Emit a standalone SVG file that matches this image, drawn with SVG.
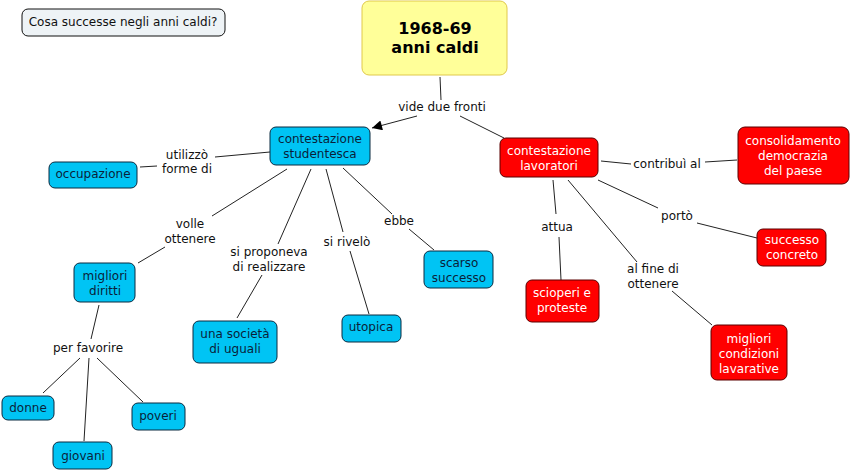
<svg xmlns="http://www.w3.org/2000/svg" width="851" height="472" viewBox="0 0 851 472">
<style>
text{font-family:"DejaVu Sans",Verdana,sans-serif;font-size:12px;text-anchor:middle}
.b rect{fill:#00c4f4;stroke:#0a2a40;stroke-width:1}
.b text{fill:#0a1f3a}
.r rect{fill:#ff0000;stroke:#5a0000;stroke-width:1}
.r text{fill:#ffffff}
.lbl{fill:#111}
.c line{stroke:#222;stroke-width:1}
</style>
<defs>
<marker id="ah" viewBox="0 0 10 10" refX="10" refY="5" markerWidth="14" markerHeight="10" markerUnits="userSpaceOnUse" orient="auto">
<path d="M0,0 L10,5 L0,10 z" fill="#000"/>
</marker>
</defs>
<rect width="851" height="472" fill="#fff"/>
<g id="connectors" class="c">
<line x1="440" y1="77" x2="441" y2="100"/>
<line x1="417" y1="116" x2="372" y2="128" marker-end="url(#ah)"/>
<line x1="460" y1="116" x2="504" y2="138"/>
<line x1="270" y1="152" x2="215" y2="157"/>
<line x1="157" y1="166" x2="140" y2="167"/>
<line x1="287" y1="169" x2="212" y2="216"/>
<line x1="165" y1="247" x2="138" y2="263"/>
<line x1="311" y1="169" x2="278" y2="244"/>
<line x1="262" y1="275" x2="237" y2="318"/>
<line x1="326" y1="169" x2="343" y2="232"/>
<line x1="350" y1="251" x2="369" y2="314"/>
<line x1="343" y1="168" x2="392" y2="214"/>
<line x1="409" y1="229" x2="434" y2="250"/>
<line x1="99" y1="305" x2="91" y2="339"/>
<line x1="80" y1="358" x2="43" y2="393"/>
<line x1="89" y1="358" x2="84" y2="441"/>
<line x1="97" y1="358" x2="143" y2="402"/>
<line x1="601" y1="161" x2="631" y2="164"/>
<line x1="705" y1="162" x2="737" y2="160"/>
<line x1="598" y1="180" x2="658" y2="208"/>
<line x1="697" y1="223" x2="757" y2="238"/>
<line x1="553" y1="180" x2="556" y2="214"/>
<line x1="559" y1="237" x2="561" y2="280"/>
<line x1="568" y1="180" x2="637" y2="262"/>
<line x1="672" y1="291" x2="712" y2="325"/>
</g>
<g id="labels" class="lbl">
<text x="442" y="111" class="lbl">vide due fronti</text>
<text x="187" y="159" class="lbl">utilizzò</text>
<text x="187" y="173" class="lbl">forme di</text>
<text x="190" y="228" class="lbl">volle</text>
<text x="190" y="243" class="lbl">ottenere</text>
<text x="269" y="256" class="lbl">si proponeva</text>
<text x="269" y="271" class="lbl">di realizzare</text>
<text x="347" y="246" class="lbl">si rivelò</text>
<text x="399" y="225" class="lbl">ebbe</text>
<text x="88" y="352" class="lbl">per favorire</text>
<text x="667" y="168" class="lbl">contribuì al</text>
<text x="677" y="220" class="lbl">portò</text>
<text x="557" y="231" class="lbl">attua</text>
<text x="653" y="273" class="lbl">al fine di</text>
<text x="653" y="288" class="lbl">ottenere</text>
</g>
<g id="question">
<rect x="22" y="9" width="203" height="27" rx="6" fill="#eef3f6" stroke="#111"/>
<text x="123" y="26" fill="#111">Cosa successe negli anni caldi?</text>
</g>
<g id="title">
<rect x="362" y="1" width="145" height="74" rx="7" fill="#ffff99" stroke="#e0c94a"/>
<text x="435" y="34" font-size="16" font-weight="bold" fill="#000" style="font-size:16px;font-weight:bold">1968-69</text>
<text x="435" y="53" style="font-size:16px;font-weight:bold" fill="#000">anni caldi</text>
</g>
<g id="studentesca" class="b">
<rect x="270" y="127" width="100" height="38" rx="6"/>
<text x="320" y="143">contestazione</text>
<text x="320" y="158">studentesca</text>
</g>
<g id="occupazione" class="b">
<rect x="49" y="162" width="88" height="26" rx="6"/>
<text x="93" y="178">occupazione</text>
</g>
<g id="diritti" class="b">
<rect x="74" y="263" width="61" height="39" rx="6"/>
<text x="105" y="280">migliori</text>
<text x="105" y="295">diritti</text>
</g>
<g id="societa" class="b">
<rect x="193" y="321" width="84" height="42" rx="6"/>
<text x="235" y="338">una società</text>
<text x="235" y="353">di uguali</text>
</g>
<g id="utopica" class="b">
<rect x="342" y="315" width="59" height="27" rx="6"/>
<text x="371" y="331">utopica</text>
</g>
<g id="scarso" class="b">
<rect x="424" y="251" width="69" height="37" rx="6"/>
<text x="459" y="267">scarso</text>
<text x="459" y="282">successo</text>
</g>
<g id="donne" class="b">
<rect x="2" y="396" width="52" height="24" rx="6"/>
<text x="28" y="412">donne</text>
</g>
<g id="poveri" class="b">
<rect x="132" y="403" width="53" height="27" rx="6"/>
<text x="158" y="420">poveri</text>
</g>
<g id="giovani" class="b">
<rect x="53" y="442" width="59" height="27" rx="6"/>
<text x="83" y="460">giovani</text>
</g>
<g id="lavoratori" class="r">
<rect x="500" y="138" width="98" height="39" rx="6"/>
<text x="549" y="155">contestazione</text>
<text x="549" y="170">lavoratori</text>
</g>
<g id="democrazia" class="r">
<rect x="738" y="127" width="111" height="57" rx="7"/>
<text x="793" y="145">consolidamento</text>
<text x="793" y="160">democrazia</text>
<text x="793" y="175">del paese</text>
</g>
<g id="successo" class="r">
<rect x="757" y="229" width="69" height="37" rx="6"/>
<text x="792" y="244">successo</text>
<text x="792" y="259">concreto</text>
</g>
<g id="scioperi" class="r">
<rect x="526" y="280" width="73" height="42" rx="6"/>
<text x="562" y="297">scioperi e</text>
<text x="562" y="312">proteste</text>
</g>
<g id="condizioni" class="r">
<rect x="711" y="325" width="76" height="55" rx="6"/>
<text x="749" y="343">migliori</text>
<text x="749" y="358">condizioni</text>
<text x="749" y="373">lavarative</text>
</g>
</svg>
